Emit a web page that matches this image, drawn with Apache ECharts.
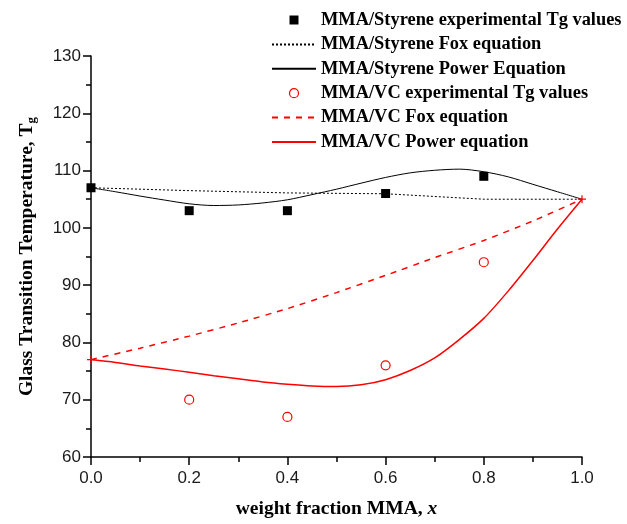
<!DOCTYPE html>
<html>
<head>
<meta charset="utf-8">
<script src="https://cdn.jsdelivr.net/npm/echarts@6/dist/echarts.min.js"></script>
<style>
  html, body { margin: 0; padding: 0; background: #fff; }
  #chart { width: 627px; height: 524px; }
</style>
</head>
<body>
<div id="chart"></div>
<script>
// Measured glass transition temperatures (°C) vs. MMA weight fraction
const expFractions = [0, 0.2, 0.4, 0.6, 0.8];
const styreneExp = [107, 103, 103, 106, 109];
const vcFractions = [0.2, 0.4, 0.6, 0.8];
const vcExp = [70, 67, 76, 94];

// Fox equation, MMA/Styrene (computed at the experimental compositions)
const foxStyFractions = [0, 0.2, 0.4, 0.6, 0.8, 1.0];
const styreneFox = [107, 106.5, 106.1, 105.95, 105.0, 105.0];

// Fox equation, MMA/VC
const foxVcFractions = [0, 0.1, 0.2, 0.3, 0.4, 0.5, 0.6, 0.7, 0.8, 0.9, 1.0];
const vcFox = [77, 79.0, 81.1, 83.4, 85.9, 88.7, 91.7, 94.8, 97.8, 101.2, 105.0];

// Power equation curves, sampled every 0.05
const powerFractions = [0, 0.05, 0.1, 0.15, 0.2, 0.25, 0.3, 0.35, 0.4, 0.45, 0.5,
                        0.55, 0.6, 0.65, 0.7, 0.75, 0.8, 0.85, 0.9, 0.95, 1.0];
const styrenePower = [107.0, 106.3, 105.55, 104.85, 104.2, 103.9, 104.0, 104.35, 104.9, 105.8, 106.75,
                      107.8, 108.8, 109.6, 110.05, 110.25, 109.8, 108.9, 107.6, 106.3, 105.0];
const vcPower = [77.0, 76.5, 75.9, 75.35, 74.8, 74.2, 73.65, 73.1, 72.7, 72.4, 72.3,
                 72.6, 73.5, 75.1, 77.3, 80.5, 84.2, 89.0, 94.3, 99.8, 105.0];

const seriesNames = [
  'MMA/Styrene experimental Tg values',
  'MMA/Styrene Fox equation',
  'MMA/Styrene Power Equation',
  'MMA/VC experimental Tg values',
  'MMA/VC Fox equation',
  'MMA/VC Power equation'
];

const xTicks = { min: 0, max: 1, interval: 0.2 };
const yTicks = { min: 60, max: 130, interval: 10 };

const pairs = (xs, ys) => xs.map((x, i) => [x, ys[i]]);
const endpoints = (xs, ys) => [[xs[0], ys[0]], [xs[xs.length - 1], ys[ys.length - 1]]];

const serif = 'Liberation Serif, Times New Roman, serif';
const sans = 'Liberation Sans, Arial, sans-serif';
const RED = '#ff0000';
const SQUARE = 'path://M0,0L10,0L10,10L0,10Z';
const lineOnly = { itemStyle: { opacity: 0 } };

const chart = echarts.init(document.getElementById('chart'), null, { renderer: 'canvas' });

chart.setOption({
  backgroundColor: '#ffffff',
  animation: false,
  grid: { left: 91, right: 45, top: 56, bottom: 66, containLabel: false },
  legend: {
    orient: 'vertical',
    left: 271,
    top: 10,
    itemWidth: 44,
    itemHeight: 9,
    itemGap: 4.4,
    padding: 0,
    symbolKeepAspect: true,
    textStyle: { fontFamily: serif, fontWeight: 'bold', fontSize: 18.4, color: '#000', lineHeight: 20 },
    data: [
      { name: seriesNames[0], icon: SQUARE, itemStyle: { color: '#000', opacity: 1 } },
      Object.assign({ name: seriesNames[1] }, lineOnly),
      Object.assign({ name: seriesNames[2] }, lineOnly),
      { name: seriesNames[3], icon: 'circle', itemStyle: { color: '#fff', borderColor: RED, borderWidth: 1.2, opacity: 1 } },
      Object.assign({ name: seriesNames[4] }, lineOnly),
      Object.assign({ name: seriesNames[5] }, lineOnly)
    ]
  },
  xAxis: {
    type: 'value',
    min: xTicks.min,
    max: xTicks.max,
    interval: xTicks.interval,
    name: '{b|weight fraction MMA, }{i|x}',
    nameLocation: 'middle',
    nameGap: 42,
    nameTextStyle: {
      rich: {
        b: { fontFamily: serif, fontWeight: 'bold', fontSize: 19.5, color: '#000' },
        i: { fontFamily: serif, fontWeight: 'bold', fontStyle: 'italic', fontSize: 19.5, color: '#000' }
      }
    },
    axisLine: { show: true, onZero: false, lineStyle: { color: '#000', width: 1.5 } },
    axisTick: { show: true, inside: false, length: 8, lineStyle: { color: '#000', width: 1.5 } },
    minorTick: { show: true, splitNumber: 2, length: 5, lineStyle: { color: '#000', width: 1.5 } },
    splitLine: { show: false },
    axisLabel: { fontFamily: sans, fontSize: 17, color: '#1a1a1a', margin: 13, formatter: v => v.toFixed(1) }
  },
  yAxis: {
    type: 'value',
    min: yTicks.min,
    max: yTicks.max,
    interval: yTicks.interval,
    name: '{b|Glass Transition Temperature, T}{s|g}',
    nameLocation: 'middle',
    nameGap: 53,
    nameRotate: 90,
    nameTextStyle: {
      rich: {
        b: { fontFamily: serif, fontWeight: 'bold', fontSize: 19.5, color: '#000' },
        s: { fontFamily: serif, fontWeight: 'bold', fontSize: 13, color: '#000', verticalAlign: 'bottom', padding: [9, 0, 0, 0] }
      }
    },
    axisLine: { show: true, onZero: false, lineStyle: { color: '#000', width: 1.5 } },
    axisTick: { show: true, inside: false, length: 8, lineStyle: { color: '#000', width: 1.5 } },
    minorTick: { show: true, splitNumber: 2, length: 5, lineStyle: { color: '#000', width: 1.5 } },
    splitLine: { show: false },
    axisLabel: { fontFamily: sans, fontSize: 17, color: '#1a1a1a', margin: 10 }
  },
  series: [
    {
      name: seriesNames[0],
      type: 'scatter',
      symbol: 'rect',
      symbolSize: 9,
      itemStyle: { color: '#000', opacity: 1 },
      data: pairs(expFractions, styreneExp),
      z: 5
    },
    {
      name: seriesNames[1],
      type: 'line',
      showSymbol: false,
      symbol: 'none',
      smooth: false,
      lineStyle: { color: '#000', width: 1, type: [2, 2] },
      itemStyle: { color: '#000' },
      data: pairs(foxStyFractions, styreneFox)
    },
    {
      name: seriesNames[2],
      type: 'line',
      showSymbol: false,
      symbol: 'none',
      smooth: 0.3,
      lineStyle: { color: '#000', width: 1 },
      itemStyle: { color: '#000' },
      data: pairs(powerFractions, styrenePower)
    },
    {
      name: seriesNames[3],
      type: 'scatter',
      symbol: 'circle',
      symbolSize: 9,
      itemStyle: { color: '#fff', borderColor: RED, borderWidth: 1.2, opacity: 1 },
      data: pairs(vcFractions, vcExp),
      z: 5
    },
    {
      name: seriesNames[4],
      type: 'line',
      showSymbol: false,
      symbol: 'none',
      smooth: 0.2,
      lineStyle: { color: RED, width: 1.5, type: [6, 6] },
      itemStyle: { color: RED },
      data: pairs(foxVcFractions, vcFox)
    },
    {
      name: seriesNames[5],
      type: 'line',
      showSymbol: false,
      symbol: 'none',
      smooth: 0.3,
      lineStyle: { color: RED, width: 1.5 },
      itemStyle: { color: RED },
      data: pairs(powerFractions, vcPower)
    },
    {
      // end-member markers where the VC model curves meet
      name: 'endpoints',
      type: 'scatter',
      symbol: 'path://M0,5L10,5M5,0L5,10',
      symbolSize: 8,
      itemStyle: { color: 'none', borderColor: RED, borderWidth: 1.2, opacity: 1 },
      data: endpoints(foxVcFractions, vcFox),
      z: 6
    }
  ]
});
</script>
</body>
</html>
